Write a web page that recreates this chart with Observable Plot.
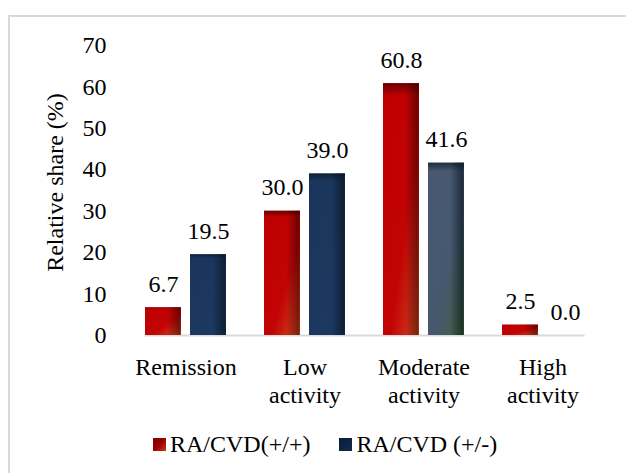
<!DOCTYPE html>
<html>
<head>
<meta charset="utf-8">
<script src="https://cdn.jsdelivr.net/npm/d3@7"></script>
<script src="https://cdn.jsdelivr.net/npm/@observablehq/plot@0.6"></script>
<style>
  html, body { margin: 0; padding: 0; overflow: hidden; background: #fff; width: 626px; height: 473px; }
  #frame { position: absolute; left: 8px; top: 15px; width: 700px; height: 600px; z-index: 5; pointer-events: none;
           border-left: 2px solid #d9d9d9; border-top: 2px solid #d9d9d9; }
  #chart { position: absolute; left: 0; top: 0; }
  #legend { position: absolute; left: 153px; top: 430px;
            font-family: "Liberation Serif", "Times New Roman", Times, Tinos, "DejaVu Serif", serif;
            font-size: 24px; line-height: 28px; display: flex; align-items: center; color: #000; white-space: nowrap; }
  .sw { width: 13px; height: 13px; margin-right: 4px; display: inline-block; }
  .item { display: flex; align-items: center; }
  .item + .item { margin-left: 29px; }
</style>
</head>
<body>
<div id="frame"></div>
<div id="chart"></div>
<div id="legend"></div>
<script>
const categories = ["Remission", "Low\nactivity", "Moderate\nactivity", "High\nactivity"];
const seriesNames = ["RA/CVD(+/+)", "RA/CVD (+/-)"];
const plusPlus = [6.7, 30.0, 60.8, 2.5];
const plusMinus = [19.5, 39.0, 41.6, 0.0];
const yTicks = [0, 10, 20, 30, 40, 50, 60, 70];
const yLabel = "Relative share (%)";

const data = categories.flatMap((c, i) => [
  {category: c, series: seriesNames[0], value: plusPlus[i]},
  {category: c, series: seriesNames[1], value: plusMinus[i]}
]);

const baseFill = d => d.series === seriesNames[0] ? "url(#redBase)"
  : (d.category === categories[2] ? "url(#slateBase)" : "url(#navyBase)");
const rightFill = d => d.series === seriesNames[0] ? "url(#redRight)" : "url(#blueRight)";
const topFill = d => d.series === seriesNames[0] ? "url(#redTop)" : "url(#blueTop)";
const fmt = d3.format(".1f");
const serif = "'Liberation Serif', 'Times New Roman', Times, Tinos, 'DejaVu Serif', serif";

const chart = Plot.plot({
  width: 626, height: 420,
  marginLeft: 125, marginRight: 24, marginTop: 45, marginBottom: 85,
  style: {fontFamily: serif, fontSize: "24px", background: "none", color: "#000", overflow: "visible"},
  fx: {domain: categories, paddingInner: 0.32, paddingOuter: 0.16, label: null},
  x: {domain: seriesNames, paddingInner: 0.2, paddingOuter: 0, axis: null},
  y: {domain: [0, 70], axis: null},
  color: {type: "identity"},
  marks: [
    Plot.frame({anchor: "bottom", facet: "super", stroke: "#d9d9d9", strokeWidth: 2}),
    Plot.barY(data, {fx: "category", x: "series", y: "value", fill: baseFill}),
    Plot.barY(data, {fx: "category", x: "series", y: "value", fill: rightFill}),
    Plot.barY(data, {fx: "category", x: "series", y: "value", fill: topFill}),
    Plot.text(data, {fx: "category", x: "series", y: "value", text: d => fmt(d.value),
      lineAnchor: "bottom", dy: -16, fill: "#000", fontSize: 24, fontFamily: serif}),
    Plot.axisY({ticks: yTicks, tickSize: 0, tickPadding: 39, fontSize: 24, fontFamily: serif, label: null}),
    Plot.text([yLabel], {facet: "super", frameAnchor: "left", rotate: -90, text: d => d,
      textAnchor: "middle", lineAnchor: "middle", dx: -90, dy: -8, fill: "#000", fontSize: 24, fontFamily: serif}),
    Plot.axisFx({anchor: "bottom", tickSize: 0, tickPadding: 20, label: null, lineHeight: 1.15,
      fontSize: 24, fontFamily: serif})
  ]
});

const defs = `
<defs>
  <linearGradient id="redBase" x1="0" y1="0" x2="1" y2="1">
    <stop offset="0" stop-color="#b80000"/>
    <stop offset="0.15" stop-color="#c00000"/>
    <stop offset="0.6" stop-color="#c20404"/>
    <stop offset="0.85" stop-color="#cc3018"/>
    <stop offset="1" stop-color="#d9561f"/>
  </linearGradient>
  <linearGradient id="navyBase" x1="0" y1="0" x2="1" y2="1">
    <stop offset="0" stop-color="#1a355b"/>
    <stop offset="1" stop-color="#1d3a61"/>
  </linearGradient>
  <linearGradient id="slateBase" x1="0" y1="0" x2="1" y2="1">
    <stop offset="0" stop-color="#47586f"/>
    <stop offset="0.6" stop-color="#46586e"/>
    <stop offset="0.85" stop-color="#435e4c"/>
    <stop offset="1" stop-color="#3c6b2e"/>
  </linearGradient>
  <linearGradient id="redRight" x1="0" y1="0" x2="1" y2="0">
    <stop offset="0" stop-color="#300000" stop-opacity="0"/>
    <stop offset="0.62" stop-color="#300000" stop-opacity="0"/>
    <stop offset="0.95" stop-color="#300000" stop-opacity="0.55"/>
    <stop offset="1" stop-color="#300000" stop-opacity="0.35"/>
  </linearGradient>
  <linearGradient id="blueRight" x1="0" y1="0" x2="1" y2="0">
    <stop offset="0" stop-color="#06101e" stop-opacity="0"/>
    <stop offset="0.62" stop-color="#06101e" stop-opacity="0"/>
    <stop offset="0.95" stop-color="#06101e" stop-opacity="0.6"/>
    <stop offset="1" stop-color="#06101e" stop-opacity="0.4"/>
  </linearGradient>
  <linearGradient id="redTop" x1="0" y1="0" x2="0" y2="1">
    <stop offset="0" stop-color="#300000" stop-opacity="0.6"/>
    <stop offset="0.05" stop-color="#300000" stop-opacity="0"/>
  </linearGradient>
  <linearGradient id="blueTop" x1="0" y1="0" x2="0" y2="1">
    <stop offset="0" stop-color="#06101e" stop-opacity="0.6"/>
    <stop offset="0.05" stop-color="#06101e" stop-opacity="0"/>
  </linearGradient>
</defs>`;
const defsHolder = document.createElementNS("http://www.w3.org/2000/svg", "g");
defsHolder.innerHTML = defs;
chart.insertBefore(defsHolder, chart.firstChild);
document.getElementById("chart").appendChild(chart);

const legend = d3.select("#legend");
const swatchBg = [
  "linear-gradient(135deg, #7a0000 0%, #a00000 50%, #b8401a 100%)",
  "linear-gradient(135deg, #0c1d36 0%, #122a4c 100%)"
];
seriesNames.forEach((name, i) => {
  const item = legend.append("div").attr("class", "item");
  item.append("span").attr("class", "sw").style("background", swatchBg[i]);
  item.append("span").text(name);
});
</script>
</body>
</html>
